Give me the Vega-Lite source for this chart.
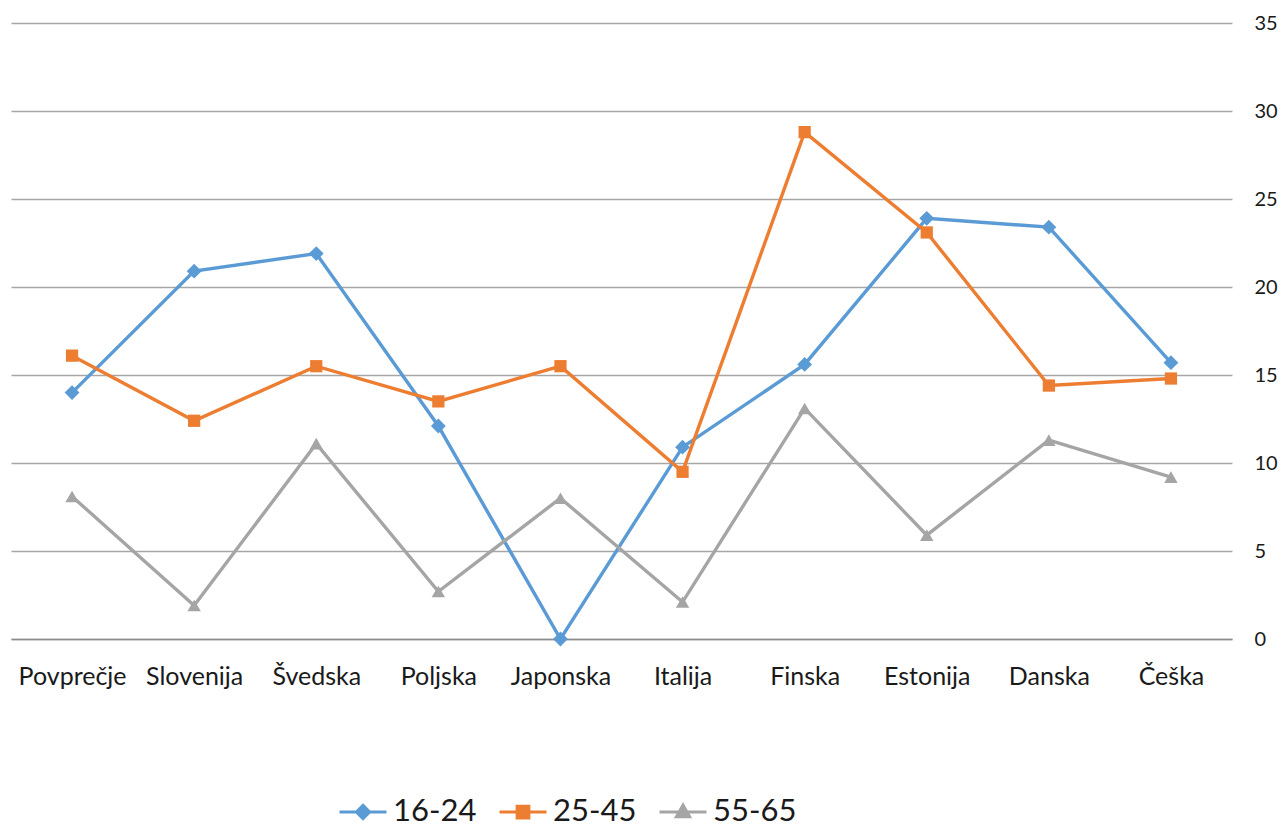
{
  "$schema": "https://vega.github.io/schema/vega-lite/v6.json",
  "width": 1221,
  "height": 616,
  "autosize": {"type": "none"},
  "padding": {"left": 11, "top": 23, "right": 50, "bottom": 188},
  "background": "white",
  "config": {
    "view": {"stroke": null},
    "font": "Lato"
  },
  "data": {
    "values": [
      {"country": "Povprečje", "group": "16-24", "value": 14.0},
      {"country": "Slovenija", "group": "16-24", "value": 20.9},
      {"country": "Švedska", "group": "16-24", "value": 21.9},
      {"country": "Poljska", "group": "16-24", "value": 12.1},
      {"country": "Japonska", "group": "16-24", "value": 0.0},
      {"country": "Italija", "group": "16-24", "value": 10.9},
      {"country": "Finska", "group": "16-24", "value": 15.6},
      {"country": "Estonija", "group": "16-24", "value": 23.9},
      {"country": "Danska", "group": "16-24", "value": 23.4},
      {"country": "Češka", "group": "16-24", "value": 15.7},
      {"country": "Povprečje", "group": "25-45", "value": 16.1},
      {"country": "Slovenija", "group": "25-45", "value": 12.4},
      {"country": "Švedska", "group": "25-45", "value": 15.5},
      {"country": "Poljska", "group": "25-45", "value": 13.5},
      {"country": "Japonska", "group": "25-45", "value": 15.5},
      {"country": "Italija", "group": "25-45", "value": 9.5},
      {"country": "Finska", "group": "25-45", "value": 28.8},
      {"country": "Estonija", "group": "25-45", "value": 23.1},
      {"country": "Danska", "group": "25-45", "value": 14.4},
      {"country": "Češka", "group": "25-45", "value": 14.8},
      {"country": "Povprečje", "group": "55-65", "value": 8.1},
      {"country": "Slovenija", "group": "55-65", "value": 1.9},
      {"country": "Švedska", "group": "55-65", "value": 11.1},
      {"country": "Poljska", "group": "55-65", "value": 2.7},
      {"country": "Japonska", "group": "55-65", "value": 8.0},
      {"country": "Italija", "group": "55-65", "value": 2.1},
      {"country": "Finska", "group": "55-65", "value": 13.1},
      {"country": "Estonija", "group": "55-65", "value": 5.9},
      {"country": "Danska", "group": "55-65", "value": 11.3},
      {"country": "Češka", "group": "55-65", "value": 9.2}
    ]
  },
  "encoding": {
    "x": {
      "field": "country",
      "type": "nominal",
      "sort": ["Povprečje", "Slovenija", "Švedska", "Poljska", "Japonska", "Italija", "Finska", "Estonija", "Danska", "Češka"],
      "scale": {"padding": 0.5},
      "axis": {
        "title": null,
        "labelAngle": 0,
        "labelFontSize": 25,
        "labelColor": "#1a1a1a",
        "labelPadding": 25,
        "ticks": false,
        "domain": true,
        "domainColor": "#8c8c8c",
        "domainWidth": 1.5,
        "grid": false
      }
    },
    "y": {
      "field": "value",
      "type": "quantitative",
      "scale": {"domain": [0, 35], "nice": false},
      "axis": {
        "title": null,
        "orient": "right",
        "values": [0, 5, 10, 15, 20, 25, 30, 35],
        "labelFontSize": 20,
        "labelColor": "#1a1a1a",
        "labelPadding": 22,
        "ticks": false,
        "domain": false,
        "grid": true,
        "gridColor": "#a6a6a6",
        "gridWidth": 1.3
      }
    }
  },
  "layer": [
    {
      "mark": {"type": "line", "strokeWidth": 3.4},
      "encoding": {
        "color": {
          "field": "group",
          "type": "nominal",
          "scale": {"domain": ["16-24", "25-45", "55-65"], "range": ["#5B9BD5", "#ED7D31", "#A5A5A5"]},
          "legend": {
            "title": null,
            "orient": "none",
            "direction": "horizontal",
            "legendX": 327,
            "legendY": 764,
            "labelFontSize": 31,
            "labelColor": "#1a1a1a",
            "symbolSize": 2209,
            "symbolStrokeWidth": 3,
            "labelOffset": 5,
            "columnPadding": 16,
            "encode": {
              "symbols": {
                "update": {
                  "shape": {"signal": "datum.value === '16-24' ? 'M-1,0H1M0,-0.28L0.28,0L0,0.28L-0.28,0Z' : datum.value === '25-45' ? 'M-1,0H1M-0.25,-0.25H0.25V0.25H-0.25Z' : 'M-1,0H1M0,-0.3L0.28,0.2H-0.28Z'"},
                  "fill": {"signal": "scale('color', datum.value)"},
                  "stroke": {"signal": "scale('color', datum.value)"},
                  "strokeWidth": {"value": 3},
                  "opacity": {"value": 1}
                }
              }
            }
          }
        }
      }
    },
    {
      "transform": [{"filter": "datum.group === '16-24'"}],
      "mark": {"type": "point", "filled": true, "shape": "diamond", "size": 220, "opacity": 1},
      "encoding": {"color": {"field": "group", "type": "nominal", "legend": null}}
    },
    {
      "transform": [{"filter": "datum.group === '25-45'"}],
      "mark": {"type": "point", "filled": true, "shape": "square", "size": 150, "opacity": 1},
      "encoding": {"color": {"field": "group", "type": "nominal", "legend": null}}
    },
    {
      "transform": [{"filter": "datum.group === '55-65'"}],
      "mark": {"type": "point", "filled": true, "shape": "triangle-up", "size": 180, "opacity": 1},
      "encoding": {"color": {"field": "group", "type": "nominal", "legend": null}}
    }
  ]
}
